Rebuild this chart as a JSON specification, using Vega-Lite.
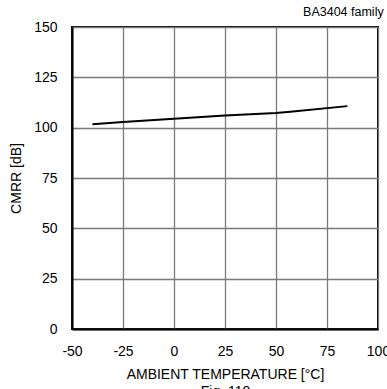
{
  "$schema": "https://vega.github.io/schema/vega-lite/v6.json",
  "width": 306,
  "height": 302,
  "autosize": {"type": "none"},
  "padding": {"left": 72, "top": 27, "right": 9, "bottom": 60},
  "background": "white",
  "title": {
    "text": "BA3404  family",
    "anchor": "end",
    "orient": "top",
    "font": "Liberation Sans",
    "fontSize": 12.5,
    "fontWeight": "normal",
    "color": "black",
    "offset": 2,
    "dx": -6
  },
  "config": {
    "view": {"stroke": "black", "strokeWidth": 2},
    "axis": {
      "labelFont": "Liberation Sans",
      "titleFont": "Liberation Sans",
      "labelFontSize": 14,
      "titleFontSize": 14,
      "labelColor": "black",
      "titleColor": "black",
      "titleFontWeight": "normal",
      "ticks": false,
      "gridColor": "#7a7a7a",
      "gridWidth": 1.3,
      "gridOpacity": 1,
      "domainColor": "black",
      "domainWidth": 2
    }
  },
  "data": {
    "values": [
      {"t": -40, "cmrr": 101.7},
      {"t": -25, "cmrr": 102.8},
      {"t": 0, "cmrr": 104.4},
      {"t": 25, "cmrr": 106.0},
      {"t": 50, "cmrr": 107.3},
      {"t": 57, "cmrr": 107.9},
      {"t": 85, "cmrr": 110.7}
    ]
  },
  "mark": {"type": "line", "color": "black", "strokeWidth": 2},
  "encoding": {
    "x": {
      "field": "t",
      "type": "quantitative",
      "scale": {"domain": [-50, 100], "nice": false, "zero": false},
      "axis": {
        "values": [-50, -25, 0, 25, 50, 75, 100],
        "labelExpr": "'' + datum.value",
        "labelPadding": 15,
        "labelFlush": false,
        "title": ["AMBIENT TEMPERATURE [°C]", "Fig. 110"],
        "titlePadding": 9,
        "titleLineHeight": 17
      }
    },
    "y": {
      "field": "cmrr",
      "type": "quantitative",
      "scale": {"domain": [0, 150], "nice": false},
      "axis": {
        "values": [0, 25, 50, 75, 100, 125, 150],
        "labelPadding": 15,
        "title": "CMRR [dB]",
        "titlePadding": 10
      }
    }
  }
}
